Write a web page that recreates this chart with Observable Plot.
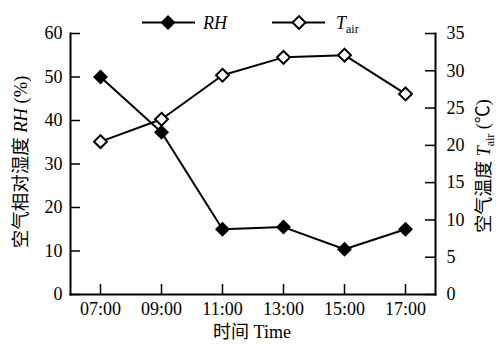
<!DOCTYPE html>
<html><head><meta charset="utf-8">
<script src="https://cdn.jsdelivr.net/npm/d3@7"></script>
<script src="https://cdn.jsdelivr.net/npm/@observablehq/plot@0.6"></script>
<style>body{margin:0;background:#fff} #chart{width:499px;height:345px}</style>
</head><body><div id="chart"></div>
<script>
const times = ["07:00","09:00","11:00","13:00","15:00","17:00"];
const rh = [50, 37.3, 15, 15.5, 10.4, 15];
const tair = [20.5, 23.5, 29.4, 31.8, 32.1, 26.9];
const rhTicks = [0,10,20,30,40,50,60];
const tTicks = [0,5,10,15,20,25,30,35];

const k = 60/35;
const rhData = times.map((t,i)=>({time:t, v:rh[i]}));
const tData = times.map((t,i)=>({time:t, v:tair[i]*k}));
const W=499,H=345, mL=70,mR=64,mT=33,mB=51;
const fw = W-mL-mR, fh = H-mT-mB;
const font = '"Liberation Serif","Times New Roman","Noto Sans CJK SC",serif';
const R = 5.8;

const plot = Plot.plot({
  width:W, height:H, marginLeft:mL, marginRight:mR, marginTop:mT, marginBottom:mB,
  style:{fontFamily:font, fontSize:"18px", background:"white", color:"black", overflow:"visible"},
  x:{type:"point", domain: times, padding:0.475},
  y:{domain:[0,60]},
  marks:[
    Plot.axisY(rhTicks, {anchor:"left", tickSize:0, tickPadding:8, label:null}),
    Plot.axisY(tTicks.map(t=>t*k), {anchor:"right", tickSize:0, tickPadding:11, tickFormat: d=>String(Math.round(d/k)), label:null}),
    Plot.axisX(times, {anchor:"bottom", tickSize:0, tickPadding:8, label:null}),
    Plot.tickY(rhTicks, {y:d=>d, insetRight: fw-10, stroke:"black", strokeWidth:1.5}),
    Plot.tickY(tTicks.map(t=>t*k), {y:d=>d, insetLeft: fw-10, stroke:"black", strokeWidth:1.5}),
    Plot.tickX(times, {x:d=>d, insetTop: fh-10, stroke:"black", strokeWidth:1.5}),
    Plot.frame({anchor:"left", stroke:"black", strokeWidth:2}),
    Plot.frame({anchor:"right", stroke:"black", strokeWidth:2}),
    Plot.frame({anchor:"bottom", stroke:"black", strokeWidth:2}),
    Plot.line(tData, {x:"time", y:"v", stroke:"black", strokeWidth:2}),
    Plot.dot(tData, {x:"time", y:"v", symbol:"diamond2", r:R, fill:"white", stroke:"black", strokeWidth:2}),
    Plot.line(rhData, {x:"time", y:"v", stroke:"black", strokeWidth:2}),
    Plot.dot(rhData, {x:"time", y:"v", symbol:"diamond2", r:R, fill:"black", stroke:"black", strokeWidth:1.5})
  ]
});
document.getElementById("chart").appendChild(plot);

const svg = d3.select(plot);
const g = svg.append("g").attr("font-family", font).attr("font-size", 18).attr("fill","black");
// left title
const lt = g.append("text").attr("transform","translate(21,162) rotate(-90)").attr("text-anchor","middle").attr("dy","0.35em").attr("font-size",18.5);
lt.append("tspan").text("空气相对湿度 ");
lt.append("tspan").attr("font-style","italic").text("RH");
lt.append("tspan").text(" (%)");
// right title
const rt = g.append("text").attr("transform","translate(484,166) rotate(-90)").attr("text-anchor","middle").attr("dy","0.35em");
rt.append("tspan").text("空气温度 ");
rt.append("tspan").attr("font-style","italic").text("T");
rt.append("tspan").attr("font-size",12).attr("dy","0.3em").text("air");
rt.append("tspan").attr("dy","-0.3em").text(" (℃)");
// x title
g.append("text").attr("x",252).attr("y",338).attr("text-anchor","middle").text("时间 Time");
// legend
const sym = d3.symbol(d3.symbolDiamond2, Math.PI*R*R);
const legend = [
  {x0:142, x1:195, cx:168, ty:203, fill:"black", sw:1.5},
  {x0:272, x1:325, cx:299, ty:336, fill:"white", sw:2}
];
legend.forEach((L,i)=>{
  g.append("line").attr("x1",L.x0).attr("x2",L.x1).attr("y1",22.5).attr("y2",22.5).attr("stroke","black").attr("stroke-width",2);
  g.append("path").attr("d",sym()).attr("transform",`translate(${L.cx},22.5)`).attr("fill",L.fill).attr("stroke","black").attr("stroke-width",L.sw);
  const t = g.append("text").attr("x",L.ty).attr("y",29).attr("text-anchor","start");
  if(i===0){ t.append("tspan").attr("font-style","italic").text("RH"); }
  else { t.append("tspan").attr("font-style","italic").text("T"); t.append("tspan").attr("font-size",12).attr("dy","0.3em").text("air"); }
});
</script></body></html>
